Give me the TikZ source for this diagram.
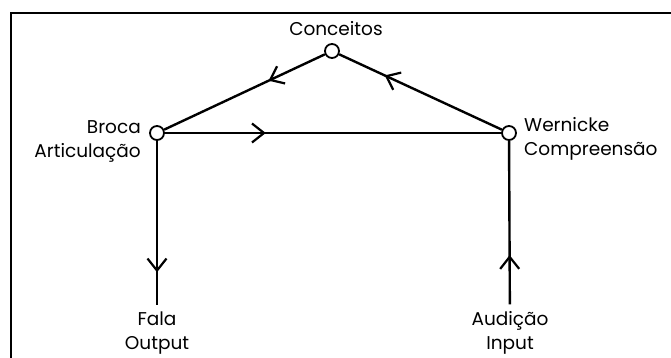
\documentclass[tikz,border=0pt]{standalone}
\usepackage{fontspec}
\setmainfont{Poppins}
\usetikzlibrary{arrows.meta,decorations.markings}

\tikzset{
  area/.style={circle,draw,fill=white,line width=1.8pt,inner sep=0pt,minimum size=14pt},
  label/.style={font=\fontsize{18.5}{24}\selectfont,inner sep=0pt},
  tract/.style={line width=2.4pt},
  midarrow/.style={postaction={decorate},decoration={markings,
      mark=at position #1 with {\arrow{Straight Barb[length=12pt,width=19pt,line width=2.2pt]}}}}
}

\begin{document}
\begin{tikzpicture}[x=1pt,y=-1pt]
  \useasboundingbox (0,0) rectangle (671,358);
  % frame, only top and left sides in view
  \draw[line width=2pt] (11,358) -- (11,13) -- (671,13);

  \node[area] (conceitos) at (332,51) {};
  \node[area] (broca) at (157,133) {};
  \node[area] (wernicke) at (509,133) {};

  \node[label] (tconceitos) at (336,29) {Conceitos};
  \node[label,align=right,anchor=east] (tbroca) at (141,141) {Broca\\Articulação};
  \node[label,align=left,anchor=west] (twernicke) at (524,139) {Wernicke\\Compreensão};
  \node[label,align=center] (fala) at (157,333) {Fala\\Output};
  \node[label,align=center] (audicao) at (510,333) {Audição\\Input};

  \begin{scope}[tract]
    \draw[midarrow=0.35] (conceitos) -- (broca);
    \draw[midarrow=0.72] (wernicke) -- (conceitos);
    \draw[midarrow=0.3] (broca) -- (wernicke);
    \draw[midarrow=0.77,shorten >=7pt] (broca) -- (fala);
    \draw[midarrow=0.33,shorten <=7pt] (audicao) -- (wernicke);
  \end{scope}
\end{tikzpicture}
\end{document}
